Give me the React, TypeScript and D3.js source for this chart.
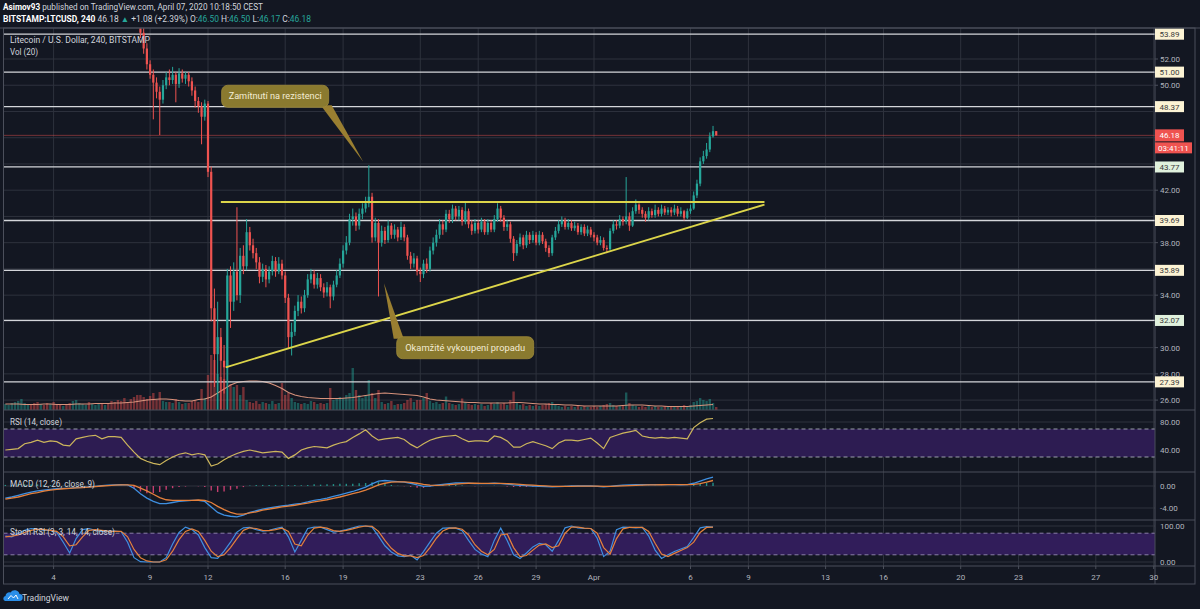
import React from 'react';
import * as d3 from 'd3';

// LTC/USD 4h, Bitstamp
const HOUR = 3600 * 1000;
const CANDLE_START = Date.UTC(2020, 2, 1, 12); // first 4h bar
const INDICATOR_START = Date.UTC(2020, 2, 1, 12); // indicator samples, every 8h
const FIRST_OPEN = 58.2;

const closes = [
  // Mar 1 - Mar 8 08:00 (above the visible range)
  58.6, 58.9, 59.4,
  59.8, 60.5, 61.2, 61.8, 62.0, 61.5,
  61.2, 60.8, 61.4, 60.9, 60.2, 60.6,
  60.3, 60.0, 59.8, 60.4, 60.1, 59.9,
  60.4, 61.2, 62.3, 62.8, 63.2, 62.9,
  63.4, 63.9, 64.2, 63.7, 64.0, 63.8,
  63.5, 62.8, 62.2, 61.5, 61.0, 60.6,
  59.8, 58.2, 56.3,
  // Mar 8 12:00 ->
  54.0, 52.8, 51.6,
  50.8, 50.2, 49.5, 48.9, 50.0, 50.6,
  50.4, 50.8, 50.1, 50.9, 50.5, 50.8,
  50.3, 49.6, 48.8, 48.4, 47.6, 48.6,
  43.4, 33.0, 29.5, 30.8, 29.0, 28.5,
  35.5, 33.5, 35.8, 34.0, 37.0, 36.2,
  38.8, 37.8, 37.2, 36.5, 35.4, 36.0,
  35.2, 35.8, 36.6, 35.8, 36.4, 35.5,
  33.8, 30.8, 31.2, 32.8, 33.5, 33.0,
  34.0, 35.2, 35.6, 34.8, 35.3, 34.6,
  34.2, 34.6, 33.9, 34.8, 35.5, 36.4,
  37.4, 38.0, 39.8, 40.0, 39.3, 40.2,
  40.6, 41.0, 41.5, 38.4, 39.5, 38.0,
  38.9, 38.2, 39.3, 38.6, 39.0, 38.4,
  39.2, 38.4, 37.0, 36.4, 36.8, 35.8,
  35.6, 36.4, 36.0, 37.4, 38.0, 38.6,
  39.4, 39.0, 40.2, 39.8, 40.6, 40.0,
  40.5, 39.6, 40.4, 39.4, 38.9, 39.5,
  39.0, 39.6, 38.8, 39.5, 39.0, 39.8,
  40.6, 39.9, 39.2, 39.4, 38.3, 37.2,
  37.9, 38.4, 37.8, 38.6, 38.2, 38.6,
  38.0, 38.6, 38.1, 37.6, 37.2, 38.4,
  38.9, 39.4, 39.7, 39.2, 39.5, 39.1,
  39.3, 38.8, 39.2, 38.7, 39.0, 38.6,
  38.4, 38.0, 38.2, 37.6, 37.5, 38.9,
  39.4, 39.3, 39.8, 39.6, 40.0, 39.3,
  40.4, 40.9, 40.5, 40.2, 39.9, 40.4,
  40.1, 40.5, 40.2, 40.6, 40.3, 40.5,
  40.3, 40.6, 40.2, 40.4, 39.9, 40.4,
  40.6, 41.6, 42.5, 44.2, 44.6, 45.1,
  46.1, 46.5, 46.18,
];

const highs = [
  59.0, 59.3, 59.8,
  60.2, 60.9, 61.6, 62.2, 62.4, 62.4,
  61.9, 61.6, 61.8, 61.8, 61.3, 61.0,
  61.0, 60.7, 60.4, 60.8, 60.8, 60.5,
  60.8, 61.6, 62.7, 63.2, 63.6, 63.6,
  63.8, 64.3, 64.6, 64.6, 64.4, 64.4,
  64.2, 63.9, 63.2, 62.6, 61.9, 61.4,
  61.0, 60.2, 58.6,
  56.5, 54.4, 53.2,
  51.9, 51.2, 50.6, 49.9, 50.4, 51.0,
  51.2, 51.4, 51.0, 51.3, 51.2, 51.0,
  51.0, 50.6, 49.9, 49.1, 48.7, 48.9,
  48.8, 43.8, 34.5, 33.5, 31.5, 30.2,
  36.0, 36.2, 36.5, 40.7, 37.6, 37.8,
  39.8, 39.2, 38.3, 37.6, 36.9, 36.4,
  36.3, 36.2, 37.0, 36.9, 36.9, 36.7,
  35.8, 34.1, 31.9, 33.2, 34.0, 33.9,
  34.4, 35.6, 36.0, 35.9, 35.7, 35.6,
  34.9, 35.0, 34.8, 35.1, 35.9, 36.8,
  37.8, 38.5, 40.2, 40.6, 40.3, 40.6,
  41.0, 41.5, 43.9, 41.8, 39.9, 39.8,
  39.3, 39.2, 39.7, 39.5, 39.4, 39.2,
  39.6, 39.4, 38.6, 37.3, 37.2, 37.0,
  36.1, 36.7, 36.8, 37.7, 38.4, 39.0,
  39.8, 39.7, 40.5, 40.5, 40.9, 40.8,
  40.8, 40.7, 41.1, 40.6, 39.7, 39.8,
  39.7, 39.9, 39.8, 39.8, 39.7, 40.1,
  41.0, 40.8, 40.1, 39.7, 39.6, 38.5,
  38.2, 38.7, 38.6, 38.9, 38.8, 38.9,
  38.8, 38.9, 38.8, 38.3, 37.8, 38.6,
  39.2, 39.7, 40.0, 39.9, 39.8, 39.7,
  39.6, 39.5, 39.4, 39.4, 39.3, 39.2,
  38.8, 38.6, 38.5, 38.4, 37.8, 39.1,
  39.7, 39.7, 40.1, 40.0, 43.0, 40.3,
  40.7, 41.3, 41.0, 40.7, 40.4, 40.7,
  40.6, 40.9, 40.7, 40.9, 40.8, 40.7,
  40.7, 40.9, 40.8, 40.7, 40.5, 40.6,
  40.9, 41.9, 42.8, 44.5, 45.0, 45.6,
  46.4, 46.9, 46.5,
];

const lows = [
  57.8, 58.2, 58.5,
  59.0, 59.4, 60.1, 60.8, 61.4, 61.1,
  60.8, 60.4, 60.4, 60.5, 59.8, 59.8,
  59.9, 59.6, 59.4, 59.4, 59.7, 59.5,
  59.5, 60.0, 60.8, 61.9, 62.4, 62.5,
  62.5, 63.0, 63.5, 63.3, 63.3, 63.4,
  63.1, 62.4, 61.8, 61.1, 60.6, 60.2,
  59.4, 57.8, 55.9,
  53.6, 52.4, 51.2,
  50.5, 47.4, 49.0, 46.2, 48.6, 49.7,
  50.0, 50.1, 48.7, 49.8, 50.2, 50.1,
  49.9, 49.2, 48.3, 47.9, 45.5, 47.3,
  43.0, 32.0, 27.0, 24.5, 25.0, 26.5,
  24.0, 31.5, 32.8, 33.6, 33.4, 35.6,
  35.9, 37.4, 36.8, 36.0, 34.9, 35.0,
  34.6, 34.9, 35.5, 35.4, 35.6, 35.2,
  33.4, 29.9, 29.4, 30.9, 32.4, 32.6,
  32.7, 33.8, 34.9, 34.5, 34.5, 34.3,
  33.8, 33.9, 33.0, 33.6, 34.6, 35.3,
  36.1, 37.1, 37.8, 39.3, 38.9, 39.0,
  39.8, 40.3, 40.7, 38.0, 38.1, 33.9,
  37.7, 37.9, 38.0, 38.3, 38.3, 38.1,
  38.2, 38.1, 36.7, 36.0, 36.1, 35.5,
  35.0, 35.3, 35.7, 35.8, 37.1, 37.7,
  38.3, 38.6, 38.8, 39.5, 39.5, 39.7,
  39.7, 39.3, 39.4, 39.1, 38.6, 38.7,
  38.7, 38.8, 38.6, 38.6, 38.8, 38.8,
  39.6, 39.6, 38.9, 38.9, 38.0, 36.6,
  37.0, 37.7, 37.5, 37.6, 37.9, 38.0,
  37.8, 37.8, 37.9, 37.3, 36.9, 37.0,
  38.2, 38.7, 39.2, 39.0, 39.0, 38.9,
  38.9, 38.6, 38.6, 38.5, 38.5, 38.4,
  38.1, 37.8, 37.8, 37.4, 37.2, 37.4,
  38.7, 39.0, 39.1, 39.3, 39.4, 38.9,
  39.2, 40.2, 40.2, 39.9, 39.6, 39.7,
  39.9, 39.9, 40.0, 40.0, 40.1, 40.1,
  40.0, 40.1, 40.0, 40.0, 39.7, 39.8,
  40.2, 40.5, 41.4, 42.3, 44.0, 44.4,
  44.9, 46.0, 46.17,
];

const volumes = [
  12, 10, 14, 16, 18, 22, 14, 10, 12, 14, 16, 12, 10, 14, 12, 16, 10, 12, 8, 12, 14,
  18, 20, 14, 12, 10, 16, 12, 10, 14, 12, 10, 14, 18, 16, 20, 18, 24, 16, 22, 26, 30,
  30, 26, 22,
  28, 34, 20, 36, 18, 16,
  16, 14, 22, 16, 12, 14,
  14, 18, 20, 16, 42, 24,
  70, 110, 100, 72, 66, 62,
  100, 52, 46, 50, 30, 46,
  20, 16, 14, 18, 12, 16,
  14, 12, 18, 12, 14, 54,
  30, 34, 24, 16, 14, 12,
  14, 12, 18, 16, 12, 14,
  12, 14, 44, 20, 22, 26,
  24, 30, 34, 84, 40, 30,
  24, 30, 60, 34, 24, 40,
  16, 12, 14, 18, 10, 12,
  12, 14, 20, 24, 16, 20,
  20, 24, 34, 18, 14, 16,
  12, 14, 27, 14, 12, 10,
  12, 23, 16, 12, 10, 12,
  10, 12, 8, 10, 14, 12,
  16, 12, 14, 10, 20, 37,
  14, 10, 12, 8, 10, 8,
  10, 8, 10, 12, 14, 16,
  10, 8, 6, 8, 6, 8,
  6, 8, 6, 8, 6, 6,
  8, 6, 8, 10, 12, 14,
  10, 8, 8, 10, 35, 14,
  10, 8, 6, 8, 6, 8,
  6, 8, 6, 6, 8, 6,
  6, 8, 6, 8, 10, 8,
  10, 16, 18, 24, 20, 18,
  22, 14, 6,
];

const volumeMA = [
  12, 12, 12, 11, 11, 11, 12, 12, 11, 11,
  11, 12, 12, 12, 13, 13, 13, 14, 14, 15,
  16, 18, 20, 21, 22, 22, 21, 19, 18, 18,
  21, 22, 26, 34, 42, 50, 55, 57, 58, 58,
  57, 54, 49, 43, 35, 30, 27, 25, 24, 23,
  23, 23, 23, 24, 25, 27, 29, 31, 33, 34,
  33, 32, 31, 30, 29, 26, 22, 20, 19, 18,
  17, 16, 15, 15, 14, 14, 14, 14, 14, 15,
  15, 14, 13, 12, 12, 11, 11, 10, 10, 9,
  8, 8, 8, 8, 8, 8, 9, 10, 10, 10,
  9, 8, 8, 7, 7, 7, 7, 8, 9, 10, 11,
];

const rsi = [
  40, 41, 42, 49, 51, 54, 51, 53, 52, 47,
  46, 56, 58, 60, 61, 56, 59, 59, 58, 47,
  37, 28, 24, 21, 19, 25, 30, 34, 36, 33,
  35, 33, 17, 20, 26, 31, 35, 38, 40, 38,
  36, 37, 38, 37, 28, 33, 40, 43, 45, 44,
  43, 47, 50, 52, 58, 63, 69, 60, 54, 56,
  57, 58, 55, 48, 43, 49, 54, 57, 59, 60,
  61, 56, 52, 53, 53, 52, 60, 58, 53, 44,
  44, 49, 52, 49, 46, 42, 50, 54, 54, 53,
  55, 57, 50, 42, 58, 61, 64, 66, 68, 60,
  58, 57, 58, 57, 58, 57, 56, 72, 79, 84, 85,
];

const macd = [
  -2.2, -2.0, -1.7, -1.4, -1.1, -0.9, -0.75, -0.6, -0.5, -0.45,
  -0.4, -0.3, -0.25, -0.15, -0.05, 0.05, 0.15, 0.2, 0.25, 0.2,
  -0.4, -1.4, -2.2, -2.8, -3.2, -3.2, -3.0, -2.8, -2.7, -2.6,
  -2.6, -2.8, -3.8, -4.8, -5.3, -5.5, -5.6, -5.3, -4.8, -4.5,
  -4.2, -4.0, -3.8, -3.6, -3.5, -3.3, -3.15, -2.9, -2.6, -2.45,
  -2.2, -1.9, -1.6, -1.3, -1.0, -0.6, -0.2, 0.4, 0.9, 1.0,
  0.9, 0.8, 0.7, 0.5, 0.2, -0.05, 0.0, 0.15, 0.3, 0.45,
  0.55, 0.55, 0.5, 0.45, 0.45, 0.45, 0.5, 0.45, 0.35, 0.2,
  0.1, 0.05, 0.0, -0.05, -0.1, -0.15, -0.1, -0.05, 0.0, 0.0,
  0.0, 0.0, -0.05, -0.15, -0.05, 0.05, 0.15, 0.2, 0.25, 0.25,
  0.25, 0.25, 0.25, 0.25, 0.25, 0.22, 0.25, 0.5, 0.9, 1.3, 1.6,
];

const macdSignal = [
  -2.4, -2.2, -2.0, -1.7, -1.4, -1.2, -0.95, -0.75, -0.6, -0.5,
  -0.42, -0.35, -0.3, -0.2, -0.1, 0.0, 0.08, 0.15, 0.2, 0.22,
  0.1, -0.4, -0.9, -1.5, -2.1, -2.5, -2.6, -2.6, -2.6, -2.6,
  -2.55, -2.6, -3.0, -3.7, -4.3, -4.8, -5.1, -5.1, -4.9, -4.7,
  -4.4, -4.2, -4.0, -3.8, -3.65, -3.5, -3.3, -3.1, -2.9, -2.7,
  -2.5, -2.25, -2.0, -1.7, -1.4, -1.1, -0.75, -0.3, 0.2, 0.5,
  0.7, 0.75, 0.75, 0.65, 0.5, 0.3, 0.15, 0.1, 0.15, 0.25,
  0.35, 0.45, 0.5, 0.5, 0.48, 0.46, 0.46, 0.46, 0.43, 0.38,
  0.3, 0.22, 0.15, 0.08, 0.02, -0.05, -0.08, -0.08, -0.06, -0.04,
  -0.02, -0.01, -0.02, -0.05, -0.06, -0.03, 0.02, 0.08, 0.13, 0.17,
  0.2, 0.22, 0.23, 0.24, 0.24, 0.24, 0.24, 0.3, 0.45, 0.7, 1.0,
];

const stochK = [
  72, 70, 80, 88, 93, 91, 88, 88, 82, 55,
  25, 65, 90, 93, 88, 85, 85, 86, 84, 55,
  12, 1, 0, 0, 0, 12, 50, 82, 97, 90,
  75, 40, 12, 10, 30, 55, 83, 95, 96, 90,
  86, 88, 93, 97, 70, 28, 60, 93, 97, 97,
  90, 83, 86, 90, 95, 100, 100, 97, 72, 45,
  28, 17, 15, 19, 6, 29, 55, 80, 94, 95,
  94, 87, 60, 35, 22, 15, 60, 94, 60, 20,
  10, 25, 42, 52, 48, 30, 60, 95, 100, 95,
  93, 93, 66, 15, 30, 90, 97, 96, 95, 96,
  72, 33, 10, 20, 29, 36, 43, 68, 95, 98, 97,
];

const stochD = [
  70, 72, 75, 82, 88, 91, 90, 88, 85, 70,
  45, 48, 70, 88, 90, 88, 86, 85, 85, 70,
  35, 12, 3, 0, 0, 6, 30, 62, 85, 92,
  85, 60, 30, 15, 20, 40, 65, 88, 95, 93,
  88, 87, 90, 94, 85, 50, 45, 75, 94, 97,
  94, 87, 85, 88, 92, 97, 100, 99, 85, 60,
  38, 24, 17, 17, 12, 18, 40, 66, 86, 94,
  95, 91, 75, 48, 30, 20, 35, 75, 78, 40,
  15, 18, 33, 47, 50, 40, 45, 80, 97, 97,
  94, 93, 80, 40, 22, 65, 92, 96, 96, 96,
  85, 52, 22, 15, 24, 32, 40, 55, 82, 96, 97,
];

const priceTicks = [52, 50, 48, 46, 44, 42, 40, 38, 36, 34, 32, 30, 28, 26];
const levels = [53.89, 51.0, 48.37, 43.77, 39.69, 35.89, 32.07, 27.39];
const lastPrice = 46.18;
const timeTicks = [
  '2020-03-04', '2020-03-09', '2020-03-12', '2020-03-16', '2020-03-19', '2020-03-23',
  '2020-03-26', '2020-03-29', '2020-04-01', '2020-04-06', '2020-04-09', '2020-04-13',
  '2020-04-16', '2020-04-20', '2020-04-23', '2020-04-27', '2020-04-30',
];
const resistanceLine = [
  { t: '2020-03-12T16:00Z', p: 41.1 },
  { t: '2020-04-09T20:00Z', p: 41.1 },
];
const supportLine = [
  { t: '2020-03-12T22:00Z', p: 28.5 },
  { t: '2020-04-09T20:00Z', p: 40.9 },
];
const calloutTexts = ['Zamítnutí na rezistenci', 'Okamžité vykoupení propadu'];
const calloutBoxes = [
  { t: '2020-03-12T17:00Z', p: 50.0 },
  { t: '2020-03-21T18:40Z', p: 30.83 },
];
const calloutTips = [
  { t: '2020-03-20T01:00Z', p: 44.17 },
  { t: '2020-03-21T02:50Z', p: 34.9 },
];

const BG = '#131722';
const GRID = '#2e323d';
const SEP = '#4b4f5b';
const AXIS_TXT = '#b2b5be';
const UP = '#26a69a';
const DOWN = '#ef5350';
const FONT = 'Roboto, "Noto Sans", sans-serif';

const L = 3.5;
const PR = 1155;
const R = 1195;

export default function App() {
  const x = d3.scaleUtc()
    .domain([new Date(Date.UTC(2020, 2, 4)), new Date(Date.UTC(2020, 3, 30))])
    .range([53.6, 1153.7]);
  const yP = d3.scaleLinear().domain([26, 52]).range([400.1, 59]);
  const yVol = d3.scaleLinear().domain([0, 100]).range([410, 360]);
  const yRsi = d3.scaleLinear().domain([40, 80]).range([450, 422]);
  const yMacd = d3.scaleLinear().domain([-4, 0]).range([508, 486]);
  const yStoch = d3.scaleLinear().domain([0, 100]).range([562, 526]);

  const candles = closes.map((c, i) => ({
    t: new Date(CANDLE_START + i * 4 * HOUR),
    o: i ? closes[i - 1] : FIRST_OPEN,
    h: highs[i],
    l: lows[i],
    c,
    v: volumes[i],
  }));

  type Pt = { t: Date; v: number };
  const series = (arr: number[]): Pt[] =>
    arr.map((v, k) => ({ t: new Date(INDICATOR_START + k * 8 * HOUR), v }));
  const lineOf = (ys: d3.ScaleLinear<number, number>) =>
    d3.line<Pt>().x((d) => x(d.t)).y((d) => ys(d.v));

  const macdPts = series(macd);
  const sigPts = series(macdSignal);

  const pt = (a: { t: string; p: number }) => [x(new Date(a.t)), yP(a.p)];

  const hiddenTick = (p: number) =>
    [...levels, lastPrice].some((lv) => Math.abs(yP(p) - yP(lv)) < 7);
  const greenLevels = new Set([43.77, 32.07]);

  const calloutSize = [
    { w: 107, h: 22, len: 93 },
    { w: 137, h: 22, len: 120 },
  ];

  return (
    <svg
      width={1200}
      height={609}
      style={{ position: 'absolute', left: 0, top: 0, display: 'block', background: BG }}
      fontFamily={FONT}
    >
      <defs>
        <clipPath id="cMain"><rect x={L} y={28} width={PR - L} height={382} /></clipPath>
        <clipPath id="cRsi"><rect x={L} y={410} width={PR - L} height={62} /></clipPath>
        <clipPath id="cMacd"><rect x={L} y={472} width={PR - L} height={48} /></clipPath>
        <clipPath id="cStoch"><rect x={L} y={520} width={PR - L} height={46} /></clipPath>
      </defs>
      <rect width={1200} height={609} fill={BG} />

      {/* header */}
      <text x={3} y={9.5} fontSize={8.3} fill="#d1d4dc" textLength={260} lengthAdjust="spacingAndGlyphs">
        <tspan fontWeight={700} fill="#ffffff">Asimov93</tspan>
        {' published on TradingView.com, April 07, 2020 10:18:50 CEST'}
      </text>
      <text x={3} y={21.5} fontSize={8.3} fill="#d1d4dc" textLength={308} lengthAdjust="spacingAndGlyphs">
        <tspan fontWeight={700} fill="#ffffff">BITSTAMP:LTCUSD, 240</tspan>
        {' 46.18 '}
        <tspan fill={UP}>▲</tspan>
        {' +1.08 (+2.39%) O:'}
        <tspan fill={UP}>46.50</tspan>
        {' H:'}
        <tspan fill={UP}>46.50</tspan>
        {' L:'}
        <tspan fill={UP}>46.17</tspan>
        {' C:'}
        <tspan fill={UP}>46.18</tspan>
      </text>

      {/* grid */}
      {timeTicks.map((d) => (
        <line key={d} x1={x(new Date(d))} x2={x(new Date(d))} y1={28} y2={566} stroke={GRID} strokeWidth={1} />
      ))}
      {priceTicks.map((p) => (
        <line key={p} x1={L} x2={PR} y1={yP(p)} y2={yP(p)} stroke={GRID} strokeWidth={1} />
      ))}
      {[80, 40].map((v) => <line key={'r' + v} x1={L} x2={PR} y1={yRsi(v)} y2={yRsi(v)} stroke={GRID} />)}
      {[0, -4].map((v) => <line key={'m' + v} x1={L} x2={PR} y1={yMacd(v)} y2={yMacd(v)} stroke={GRID} />)}
      {[100, 0].map((v) => <line key={'s' + v} x1={L} x2={PR} y1={yStoch(v)} y2={yStoch(v)} stroke={GRID} />)}

      {/* main pane */}
      <g clipPath="url(#cMain)">
        {candles.map((d, i) => (
          <rect
            key={'v' + i}
            x={x(d.t) - 1.2}
            width={2.4}
            y={yVol(d.v)}
            height={yVol(0) - yVol(d.v)}
            fill={d.c >= d.o ? UP : DOWN}
            opacity={0.45}
          />
        ))}
        <path d={lineOf(yVol)(series(volumeMA)) || ''} fill="none" stroke="#d8937c" strokeWidth={1.1} />

        {levels.map((lv) => (
          <line key={lv} x1={L} x2={PR} y1={yP(lv)} y2={yP(lv)} stroke="#d4d6da" strokeWidth={1.3} />
        ))}
        <line x1={L} x2={PR} y1={yP(lastPrice)} y2={yP(lastPrice)} stroke={DOWN} strokeWidth={0.9} strokeDasharray="1 1" />

        {candles.map((d, i) => {
          const cx = x(d.t);
          const col = d.c >= d.o ? UP : DOWN;
          const top = yP(Math.max(d.o, d.c));
          const bot = yP(Math.min(d.o, d.c));
          return (
            <g key={'c' + i}>
              <line x1={cx} x2={cx} y1={yP(d.h)} y2={yP(d.l)} stroke={col} strokeWidth={1} />
              <rect x={cx - 1.1} width={2.2} y={top} height={Math.max(1, bot - top)} fill={col} />
            </g>
          );
        })}

        {[resistanceLine, supportLine].map((ln, i) => {
          const [a, b] = [pt(ln[0]), pt(ln[1])];
          return <line key={'tl' + i} x1={a[0]} y1={a[1]} x2={b[0]} y2={b[1]} stroke="#dcd54a" strokeWidth={1.8} />;
        })}

        {calloutTexts.map((txt, i) => {
          const [bx, by] = pt(calloutBoxes[i]);
          const [tx, ty] = pt(calloutTips[i]);
          const { w, h, len } = calloutSize[i];
          const base =
            i === 0
              ? [[bx + w - 8, by + h - 2], [bx + w + 3, by + h - 2]]
              : [[bx - 3, by + 2], [bx + 7, by + 2]];
          return (
            <g key={'co' + i}>
              <path
                d={`M${base[0][0]},${base[0][1]}L${tx},${ty}L${base[1][0]},${base[1][1]}Z`}
                fill="#9a7f31"
              />
              <rect x={bx} y={by} width={w} height={h} rx={6} fill="#8a7a2f" stroke="#a08c3a" strokeWidth={0.8} />
              <text
                x={bx + w / 2}
                y={by + h / 2 + 3.2}
                textAnchor="middle"
                fontSize={9}
                fill="#f3ecd4"
                textLength={len}
                lengthAdjust="spacingAndGlyphs"
              >
                {txt}
              </text>
            </g>
          );
        })}
      </g>
      <text x={10} y={43} fontSize={9} fill="#d1d4dc" textLength={140} lengthAdjust="spacingAndGlyphs">
        Litecoin / U.S. Dollar, 240, BITSTAMP
      </text>
      <text x={10} y={55} fontSize={9} fill="#d1d4dc" textLength={28} lengthAdjust="spacingAndGlyphs">Vol (20)</text>

      {/* RSI pane */}
      <g clipPath="url(#cRsi)">
        <rect x={L} width={PR - L} y={yRsi(70)} height={yRsi(30) - yRsi(70)} fill="#2d1c52" />
        {[70, 30].map((v) => (
          <line key={v} x1={L} x2={PR} y1={yRsi(v)} y2={yRsi(v)} stroke="#9b9eab" strokeDasharray="4 3" strokeWidth={1} />
        ))}
        <path d={lineOf(yRsi)(series(rsi)) || ''} fill="none" stroke="#cdb65c" strokeWidth={1.2} />
      </g>
      <text x={10} y={424.5} fontSize={9} fill="#d1d4dc" textLength={52} lengthAdjust="spacingAndGlyphs">RSI (14, close)</text>

      {/* MACD pane */}
      <g clipPath="url(#cMacd)">
        {macdPts.map((d, k) => {
          const hv = d.v - sigPts[k].v;
          return (
            <line
              key={'h' + k}
              x1={x(d.t)}
              x2={x(d.t)}
              y1={yMacd(0)}
              y2={yMacd(hv)}
              stroke={hv >= 0 ? UP : '#e6457d'}
              strokeWidth={1.4}
              opacity={0.85}
            />
          );
        })}
        <path d={lineOf(yMacd)(macdPts) || ''} fill="none" stroke="#3f8fe0" strokeWidth={1.3} />
        <path d={lineOf(yMacd)(sigPts) || ''} fill="none" stroke="#e4803c" strokeWidth={1.3} />
      </g>
      <text x={10} y={487} fontSize={9} fill="#d1d4dc" textLength={85} lengthAdjust="spacingAndGlyphs">MACD (12, 26, close, 9)</text>

      {/* Stoch RSI pane */}
      <g clipPath="url(#cStoch)">
        <rect x={L} width={PR - L} y={yStoch(80)} height={yStoch(20) - yStoch(80)} fill="#311d5a" />
        {[80, 20].map((v) => (
          <line key={v} x1={L} x2={PR} y1={yStoch(v)} y2={yStoch(v)} stroke="#8a7fa8" strokeDasharray="4 3" strokeWidth={1} />
        ))}
        <path d={lineOf(yStoch)(series(stochK)) || ''} fill="none" stroke="#3f8fe0" strokeWidth={1.2} />
        <path d={lineOf(yStoch)(series(stochD)) || ''} fill="none" stroke="#e4803c" strokeWidth={1.2} />
      </g>
      <text x={10} y={535} fontSize={9} fill="#d1d4dc" textLength={105} lengthAdjust="spacingAndGlyphs">
        Stoch RSI (3, 3, 14, 14, close)
      </text>

      {/* frame */}
      <rect x={L} y={28} width={R - L} height={584 - 28} fill="none" stroke={SEP} strokeWidth={1} />
      <line x1={0} x2={1200} y1={28} y2={28} stroke={SEP} />
      {[410, 472, 520, 566].map((yy) => (
        <line key={yy} x1={L} x2={R} y1={yy} y2={yy} stroke={SEP} strokeWidth={1.2} />
      ))}
      <line x1={PR} x2={PR} y1={28} y2={584} stroke={SEP} />

      {/* price axis */}
      {priceTicks.map((p) => (
        <g key={'pt' + p}>
          <line x1={PR} x2={PR + 3} y1={yP(p)} y2={yP(p)} stroke={SEP} />
          {!hiddenTick(p) && (
            <text x={1160} y={yP(p) + 3} fontSize={8} fill={AXIS_TXT}>{p.toFixed(2)}</text>
          )}
        </g>
      ))}
      {[80, 40].map((v) => (
        <text key={'ra' + v} x={1160} y={yRsi(v) + 3} fontSize={8} fill={AXIS_TXT}>{v.toFixed(2)}</text>
      ))}
      {[0, -4].map((v) => (
        <text key={'ma' + v} x={1160} y={yMacd(v) + 3} fontSize={8} fill={AXIS_TXT}>{v.toFixed(2)}</text>
      ))}
      {[100, 0].map((v) => (
        <text key={'sa' + v} x={1160} y={yStoch(v) + 3} fontSize={8} fill={AXIS_TXT}>{v.toFixed(2)}</text>
      ))}
      {levels.map((lv) => (
        <g key={'lb' + lv}>
          <rect x={PR} y={yP(lv) - 5.5} width={29} height={11} fill={greenLevels.has(lv) ? '#e0f1dd' : '#fcf3d4'} />
          <text x={1159.5} y={yP(lv) + 3} fontSize={8} fill="#3a3a3a">{lv.toFixed(2)}</text>
        </g>
      ))}
      <rect x={PR} y={yP(lastPrice) - 6} width={29} height={12} fill={DOWN} />
      <text x={1159.5} y={yP(lastPrice) + 3} fontSize={8} fill="#ffffff">{lastPrice.toFixed(2)}</text>
      <rect x={PR} y={yP(lastPrice) + 7} width={37} height={11} fill={DOWN} />
      <text x={1158} y={yP(lastPrice) + 15.5} fontSize={8} fill="#ffffff">03:41:11</text>

      {/* time axis */}
      {timeTicks.map((d) => {
        const dt = new Date(d);
        const lbl = dt.getUTCDate() === 1 ? d3.utcFormat('%b')(dt) : d3.utcFormat('%-d')(dt);
        return (
          <g key={'tt' + d}>
            <line x1={x(dt)} x2={x(dt)} y1={566} y2={569} stroke={SEP} />
            <text x={x(dt)} y={579.5} fontSize={8} fill={AXIS_TXT} textAnchor="middle">{lbl}</text>
          </g>
        );
      })}

      {/* TradingView mark */}
      <path
        d="M5,601 L19,601 A3.5,3.5 0 0 0 19.5,594 A5,5 0 0 0 10.5,592.5 A3.8,3.8 0 0 0 5.5,596 A2.6,2.6 0 0 0 5,601 Z"
        fill="#2a8ee8"
      />
      <path d="M8,599 L11,595.5 L13.5,598 L16,595 L18,599" fill="none" stroke="#ffffff" strokeWidth={1} />
      <text x={22} y={600.5} fontSize={9.5} fill="#d1d4dc" textLength={47} lengthAdjust="spacingAndGlyphs">TradingView</text>
    </svg>
  );
}
